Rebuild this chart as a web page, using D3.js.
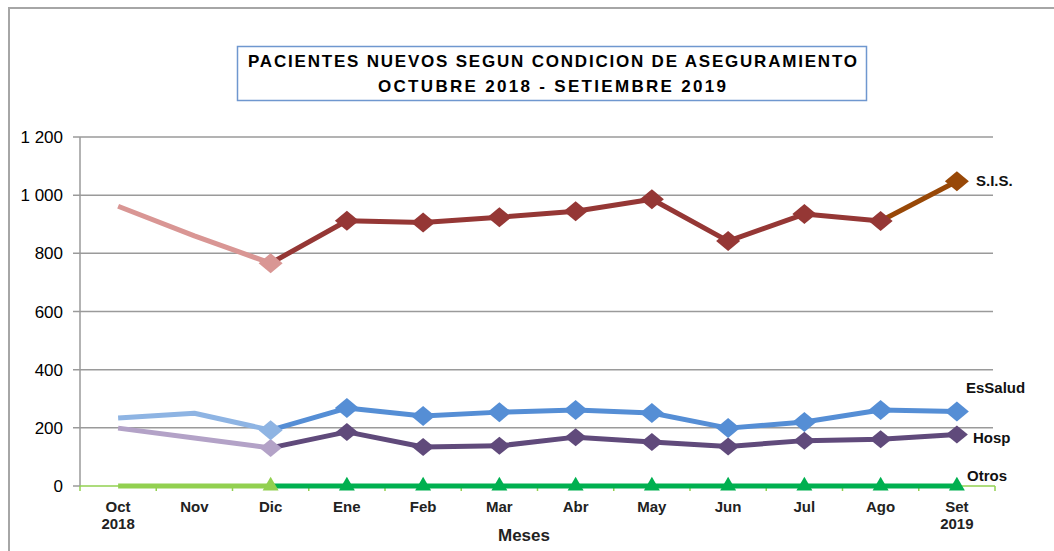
<!DOCTYPE html>
<html>
<head>
<meta charset="utf-8">
<script src="https://cdn.jsdelivr.net/npm/d3@7"></script>
<style>
body { margin: 0; background: #fff; }
svg { display: block; font-family: "Liberation Sans", Arial, sans-serif; }
</style>
</head>
<body>
<div id="chart"></div>
<script>
// data
const months = ["Oct", "Nov", "Dic", "Ene", "Feb", "Mar", "Abr", "May", "Jun", "Jul", "Ago", "Set"];
const monthYears = ["2018", "", "", "", "", "", "", "", "", "", "", "2019"];
const sis     = [962, 860, 766, 912, 906, 924, 945, 986, 842, 935, 911, 1048];
const essalud = [234, 250, 192, 268, 241, 254, 261, 251, 199, 220, 261, 256];
const hosp    = [199, 165, 131, 186, 134, 138, 168, 151, 136, 156, 161, 177];
const otros   = [0, 0, 0, 0, 0, 0, 0, 0, 0, 0, 0, 0];
const yTicks = [0, 200, 400, 600, 800, 1000, 1200];

const width = 1054, height = 551;
const svg = d3.select("#chart").append("svg")
  .attr("width", width).attr("height", height);

// outer chart border (top + left)
svg.append("path")
  .attr("d", "M9,551 V8 H1054")
  .attr("fill", "none")
  .attr("stroke", "#a6a6a6")
  .attr("stroke-width", 2);

const x = d3.scaleBand().domain(months).range([80, 995]);
const y = d3.scaleLinear().domain([0, 1200]).range([486, 137]);
const cx = m => x(m) + x.bandwidth() / 2;

// grid
svg.append("g").selectAll("line")
  .data(yTicks.filter(d => d > 0))
  .enter().append("line")
  .attr("x1", 73).attr("x2", 993)
  .attr("y1", d => y(d)).attr("y2", d => y(d))
  .attr("stroke", "#9a9a9a").attr("stroke-width", 1.5);

// y axis
svg.append("line")
  .attr("x1", 80).attr("x2", 80).attr("y1", y(1200)).attr("y2", y(0))
  .attr("stroke", "#9a9a9a").attr("stroke-width", 1.5);
svg.append("line")
  .attr("x1", 73).attr("x2", 80).attr("y1", y(0)).attr("y2", y(0))
  .attr("stroke", "#9a9a9a").attr("stroke-width", 1.5);

svg.append("g").selectAll("text")
  .data(yTicks)
  .enter().append("text")
  .attr("x", 63).attr("y", d => y(d) + 6)
  .attr("text-anchor", "end")
  .attr("font-size", 17)
  .attr("fill", "#000")
  .text(d => d3.format(",")(d).replace(",", " "));

// x axis (light green line with ticks)
svg.append("line")
  .attr("x1", 80).attr("x2", 995).attr("y1", y(0)).attr("y2", y(0))
  .attr("stroke", "#92d050").attr("stroke-width", 1.5);
svg.append("g").selectAll("line")
  .data(d3.range(13))
  .enter().append("line")
  .attr("x1", i => 80 + i * x.step()).attr("x2", i => 80 + i * x.step())
  .attr("y1", y(0)).attr("y2", y(0) + 5)
  .attr("stroke", "#92d050").attr("stroke-width", 1.5);

const xl = svg.append("g").selectAll("text")
  .data(months)
  .enter().append("text")
  .attr("x", d => cx(d))
  .attr("text-anchor", "middle")
  .attr("font-size", 15)
  .attr("font-weight", "bold")
  .attr("fill", "#222");
xl.append("tspan").attr("x", d => cx(d)).attr("y", 512).text(d => d);
xl.append("tspan").attr("x", d => cx(d)).attr("y", 529).text((d, i) => monthYears[i]);

svg.append("text")
  .attr("x", 524).attr("y", 541)
  .attr("text-anchor", "middle")
  .attr("font-size", 17).attr("font-weight", "bold")
  .attr("fill", "#222")
  .text("Meses");

// series: segments with their own colours, markers
const series = [
  { name: "Otros", values: otros, shape: d3.symbolTriangle, size: 110,
    segs: [[0, 2, "#92d050"], [2, 11, "#00b050"]],
    label: [967, 481] },
  { name: "Hosp", values: hosp, shape: "diamond", size: 10,
    segs: [[0, 2, "#b3a2c7"], [2, 11, "#604a7b"]],
    label: [973, 443] },
  { name: "EsSalud", values: essalud, shape: "diamond", size: 11,
    segs: [[0, 2, "#8eb4e3"], [2, 11, "#558ed5"]],
    label: [966, 393] },
  { name: "S.I.S.", values: sis, shape: "diamond", size: 11,
    segs: [[0, 2, "#d99694"], [2, 10, "#953735"], [10, 11, "#984807"]],
    label: [976, 186] }
];

const line = d3.line().x(d => cx(d.m)).y(d => y(d.v));

series.forEach(s => {
  const pts = s.values.map((v, i) => ({ m: months[i], v: v, i: i }));
  const g = svg.append("g");
  s.segs.forEach(([a, b, col]) => {
    g.append("path")
      .attr("d", line(pts.slice(a, b + 1)))
      .attr("fill", "none")
      .attr("stroke", col)
      .attr("stroke-width", 5)
      .attr("stroke-linejoin", "round");
  });
  // marker colour follows the segment that ends at that point
  const markerColor = i => {
    let c = null;
    s.segs.forEach(([a, b, col]) => { if (i > a && i <= b) c = col; });
    return c;
  };
  const markPts = pts.filter(p => p.i >= 2);
  g.selectAll(".mk")
    .data(markPts)
    .enter().append("path")
    .attr("class", "mk")
    .attr("transform", p => `translate(${cx(p.m)},${y(p.v)})`)
    .attr("d", p => {
      if (s.shape === "diamond") {
        const r = s.size;
        return `M0,${-r + 1}L${r + 1},0L0,${r - 1}L${-r - 1},0Z`;
      }
      return d3.symbol().type(s.shape).size(s.size)();
    })
    .attr("fill", p => markerColor(p.i));

  svg.append("text")
    .attr("x", s.label[0]).attr("y", s.label[1])
    .attr("font-size", 15).attr("font-weight", "bold")
    .attr("fill", "#111")
    .text(s.name);
});

// title box
svg.append("rect")
  .attr("x", 237.5).attr("y", 46.5).attr("width", 629).attr("height", 54)
  .attr("fill", "#fff").attr("stroke", "#6f97cf").attr("stroke-width", 1.5);
svg.append("text")
  .attr("x", 248).attr("y", 67)
  .attr("font-size", 17).attr("font-weight", "bold")
  .attr("textLength", 609).attr("lengthAdjust", "spacing")
  .text("PACIENTES NUEVOS SEGUN CONDICION DE ASEGURAMIENTO");
svg.append("text")
  .attr("x", 378).attr("y", 92)
  .attr("font-size", 17).attr("font-weight", "bold")
  .attr("textLength", 348).attr("lengthAdjust", "spacing")
  .text("OCTUBRE 2018 - SETIEMBRE 2019");
</script>
</body>
</html>
